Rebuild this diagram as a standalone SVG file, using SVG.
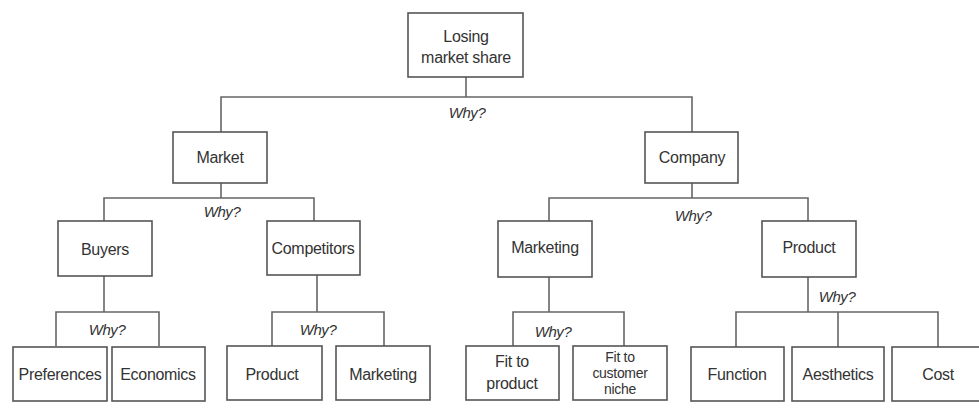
<svg xmlns="http://www.w3.org/2000/svg" width="979" height="419" viewBox="0 0 979 419">
<style>
.box{fill:#fff;stroke:#555;stroke-width:1.6}
.ln{fill:none;stroke:#666;stroke-width:1.6}
.t{font-family:"Liberation Sans",Arial,sans-serif;font-size:16px;letter-spacing:-0.3px;fill:#333;text-anchor:middle}
.s{font-size:14px}
.w{font-family:"Liberation Sans",Arial,sans-serif;font-size:15px;font-style:italic;letter-spacing:-0.4px;fill:#333;text-anchor:middle}
</style>
<rect width="979" height="419" fill="#fff"/>
<g id="connectors">
<path class="ln" d="M466,77 V97 M221,132 V97 H692 V132"/>
<path class="ln" d="M221,183 V198 M104,221 V198 H314 V221"/>
<path class="ln" d="M692,183 V198 M549,221 V198 H808 V221"/>
<path class="ln" d="M104,276 V312 M56,346 V312 H159 V346"/>
<path class="ln" d="M317,275 V312 M272,346 V312 H384 V346"/>
<path class="ln" d="M549,277 V312 M513,346 V312 H624 V346"/>
<path class="ln" d="M808,277 V312 M736,347 V312 H938 V347 M838,312 V347"/>
<text class="w" x="467" y="118">Why?</text>
<text class="w" x="222" y="217">Why?</text>
<text class="w" x="693" y="221">Why?</text>
<text class="w" x="107" y="335">Why?</text>
<text class="w" x="318" y="335">Why?</text>
<text class="w" x="553" y="337">Why?</text>
<text class="w" x="837" y="302">Why?</text>
</g>
<g id="n-root"><rect class="box" x="408" y="13" width="115" height="64"/><text class="t" x="466" y="42">Losing</text><text class="t" x="466" y="63">market share</text></g>
<g id="n-market"><rect class="box" x="173" y="132" width="94" height="51"/><text class="t" x="220" y="163">Market</text></g>
<g id="n-company"><rect class="box" x="645" y="132" width="93" height="51"/><text class="t" x="692" y="163">Company</text></g>
<g id="n-buyers"><rect class="box" x="58" y="221" width="94" height="55"/><text class="t" x="105" y="255">Buyers</text></g>
<g id="n-competitors"><rect class="box" x="267" y="221" width="93" height="54"/><text class="t" x="313" y="254">Competitors</text></g>
<g id="n-marketing"><rect class="box" x="498" y="221" width="94" height="56"/><text class="t" x="545" y="253">Marketing</text></g>
<g id="n-product"><rect class="box" x="762" y="221" width="94" height="56"/><text class="t" x="809" y="253">Product</text></g>
<g id="n-preferences"><rect class="box" x="13" y="347" width="94" height="54"/><text class="t" x="60" y="380">Preferences</text></g>
<g id="n-economics"><rect class="box" x="112" y="347" width="93" height="54"/><text class="t" x="158" y="380">Economics</text></g>
<g id="n-product2"><rect class="box" x="227" y="346" width="95" height="54"/><text class="t" x="272" y="380">Product</text></g>
<g id="n-marketing2"><rect class="box" x="336" y="346" width="94" height="54"/><text class="t" x="383" y="380">Marketing</text></g>
<g id="n-fitproduct"><rect class="box" x="466" y="346" width="93" height="54"/><text class="t" x="512" y="367">Fit to</text><text class="t" x="512" y="389">product</text></g>
<g id="n-fitniche"><rect class="box" x="573" y="346" width="94" height="54"/><text class="t s" x="620" y="362">Fit to</text><text class="t s" x="620" y="378">customer</text><text class="t s" x="620" y="394">niche</text></g>
<g id="n-function"><rect class="box" x="691" y="347" width="93" height="54"/><text class="t" x="737" y="380">Function</text></g>
<g id="n-aesthetics"><rect class="box" x="792" y="347" width="92" height="54"/><text class="t" x="838" y="380">Aesthetics</text></g>
<g id="n-cost"><rect class="box" x="892" y="347" width="93" height="54"/><text class="t" x="938" y="380">Cost</text></g>
</svg>
